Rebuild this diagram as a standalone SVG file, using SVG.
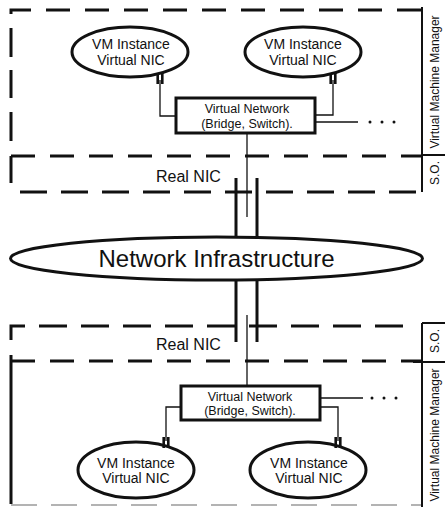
<svg xmlns="http://www.w3.org/2000/svg" width="445" height="507" viewBox="0 0 445 507">
  <style>
    text { font-family: "Liberation Sans", Arial, sans-serif; fill: #111; }
    .frame { fill: none; stroke: #111; stroke-width: 3; }
    .dash { fill: none; stroke: #111; stroke-width: 3; stroke-dasharray: 24 15; }
    .col { fill: none; stroke: #111; stroke-width: 2; }
    .node { fill: #fff; stroke: #111; stroke-width: 3; }
    .wire { fill: none; stroke: #111; stroke-width: 1.3; }
    .nic { fill: none; stroke: #111; stroke-width: 2.6; }
    .trunk { fill: none; stroke: #111; stroke-width: 3; }
    .vm { font-size: 14px; text-anchor: middle; }
    .sw { font-size: 12.5px; text-anchor: middle; }
    .lbl { font-size: 12px; text-anchor: middle; }
  </style>

  <!-- host frames: dashed zones for the hypervisor and the operating system -->
  <g id="frames">
    <!-- upper host: VMM zone -->
    <path class="dash" d="M11 14 V10 H422"/>
    <path class="frame" d="M11 28 V57 M11 70 V98 M11 112 V141"/>
    <path class="dash" d="M11 156 H422"/>
    <!-- upper host: O.S. zone -->
    <path class="frame" d="M11 156 V183"/>
    <path class="dash" d="M20 192 H422" style="stroke-dasharray:27 14"/>
    <!-- lower host: O.S. zone -->
    <path class="dash" d="M11 340 V326 H413" style="stroke-dasharray:28 14"/>
    <!-- lower host: VMM zone -->
    <path class="dash" d="M11 361 H422"/>
    <path class="frame" d="M11 355 V504"/>
    <path d="M11 505 H422" fill="none" stroke="#9a9a9a" stroke-width="1.6" stroke-dasharray="26 14"/>
  </g>

  <!-- side label columns -->
  <g id="labels">
    <path class="col" d="M422 7 V192 M422 155 H445"/>
    <path class="col" d="M422 323 V507 M422 323 H445 M413 362 H445"/>
    <text class="lbl" transform="translate(439,82) rotate(-90)">Virtual Machine Manager</text>
    <text class="lbl" transform="translate(439,173) rotate(-90)">S.O.</text>
    <text class="lbl" transform="translate(439,341) rotate(-90)">S.O.</text>
    <text class="lbl" transform="translate(439,435) rotate(-90)">Virtual Machine Manager</text>
    <text x="156" y="182" font-size="16">Real NIC</text>
    <text x="156" y="350" font-size="16">Real NIC</text>
  </g>

  <!-- upper host nodes -->
  <g id="vm-top-left">
    <ellipse class="node" cx="130" cy="52" rx="58" ry="25"/>
    <text class="vm" x="131" y="49">VM Instance</text>
    <text class="vm" x="131" y="65">Virtual NIC</text>
  </g>
  <g id="vm-top-right">
    <ellipse class="node" cx="303" cy="52" rx="58" ry="25"/>
    <text class="vm" x="303" y="49">VM Instance</text>
    <text class="vm" x="303" y="65">Virtual NIC</text>
  </g>
  <g id="vnet-top">
    <rect class="node" x="176" y="98" width="139" height="35"/>
    <text class="sw" x="247" y="113">Virtual Network</text>
    <text class="sw" x="247" y="128">(Bridge, Switch).</text>
  </g>

  <!-- shared physical network -->
  <g id="network-infrastructure">
    <ellipse class="node" cx="216.5" cy="258.5" rx="206" ry="21.5"/>
    <text x="216.5" y="267" font-size="24" text-anchor="middle">Network Infrastructure</text>
  </g>

  <!-- lower host nodes -->
  <g id="vnet-bottom">
    <rect class="node" x="181" y="386" width="139" height="34"/>
    <text class="sw" x="250" y="401">Virtual Network</text>
    <text class="sw" x="250" y="415">(Bridge, Switch).</text>
  </g>
  <g id="vm-bottom-left">
    <ellipse class="node" cx="136" cy="470" rx="58" ry="28"/>
    <text class="vm" x="136" y="468">VM Instance</text>
    <text class="vm" x="136" y="483">Virtual NIC</text>
  </g>
  <g id="vm-bottom-right">
    <ellipse class="node" cx="308" cy="470" rx="58" ry="28"/>
    <text class="vm" x="309" y="468">VM Instance</text>
    <text class="vm" x="309" y="483">Virtual NIC</text>
  </g>

  <!-- connectors, drawn over the node outlines -->
  <g id="connectors">
    <!-- upper host -->
    <path class="wire" d="M160 80 V116 H176"/>
    <path class="wire" d="M333 80 V115 H315"/>
    <path class="wire" d="M315 122 H358"/>
    <path class="wire" d="M247 133 V217"/>
    <path class="nic" d="M157.7 73 V84 M162.3 73 V84"/>
    <path class="nic" d="M330.7 73 V84 M335.3 73 V84"/>
    <path class="trunk" d="M236 178 V237 M257 178 V237"/>
    <!-- lower host -->
    <path class="trunk" d="M236 280 V342 M257 280 V342"/>
    <path class="wire" d="M247 315 V386"/>
    <path class="wire" d="M166 441 V407 H181"/>
    <path class="wire" d="M338 441 V407 H320"/>
    <path class="wire" d="M320 398 H363"/>
    <path class="nic" d="M163.7 437 V448 M168.3 437 V448"/>
    <path class="nic" d="M335.7 437 V448 M340.3 437 V448"/>
    <!-- continuation marks -->
    <g fill="#111">
      <circle cx="370" cy="122" r="1.5"/>
      <circle cx="382" cy="122" r="1.5"/>
      <circle cx="394" cy="122" r="1.5"/>
      <circle cx="372" cy="398" r="1.5"/>
      <circle cx="384" cy="398" r="1.5"/>
      <circle cx="396" cy="398" r="1.5"/>
    </g>
  </g>
</svg>
